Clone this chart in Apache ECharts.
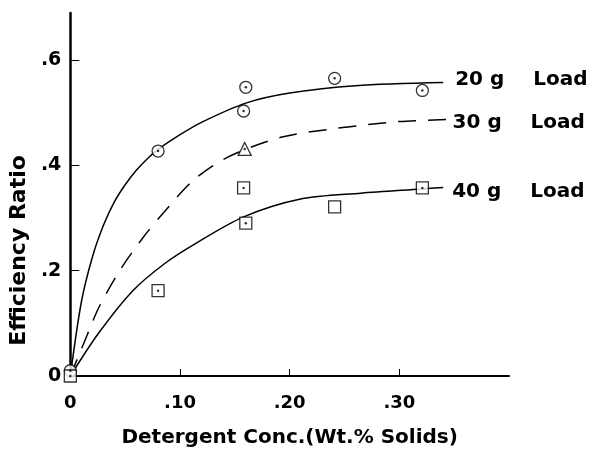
<!DOCTYPE html>
<html>
<head>
<meta charset="utf-8">
<script src="https://cdn.jsdelivr.net/npm/echarts@6/dist/echarts.min.js"></script>
<style>
  html, body { margin: 0; padding: 0; background: #fff; }
  #chart { width: 595px; height: 453px; }
</style>
</head>
<body>
<div id="chart"></div>
<script>
// axis ticks
const xTicks = [0, 0.1, 0.2, 0.3]
const yTicks = [0, 0.2, 0.4, 0.6]

// fitted curves
const curve20X = [0, 0.01, 0.02, 0.03, 0.04, 0.05, 0.06, 0.07, 0.08, 0.1, 0.12, 0.16, 0.2, 0.26, 0.34]
const curve20Y = [0, 0.14, 0.225, 0.285, 0.33, 0.363, 0.39, 0.412, 0.43, 0.458, 0.482, 0.518, 0.537, 0.551, 0.557]
const curve30X = [0, 0.015, 0.026, 0.045, 0.066, 0.085, 0.113, 0.144, 0.192, 0.235, 0.271, 0.3, 0.344]
const curve30Y = [0, 0.076, 0.13, 0.2, 0.262, 0.31, 0.373, 0.416, 0.453, 0.468, 0.477, 0.483, 0.487]
const curve40X = [0, 0.026, 0.057, 0.087, 0.113, 0.158, 0.21, 0.265, 0.32, 0.34]
const curve40Y = [0, 0.082, 0.162, 0.215, 0.25, 0.302, 0.336, 0.347, 0.355, 0.358]

// measured points
const pts20X = [0, 0.08, 0.16, 0.158, 0.241, 0.321]
const pts20Y = [0.01, 0.427, 0.548, 0.503, 0.565, 0.542]
const pts30X = [0.159]
const pts30Y = [0.431]
const pts40X = [0, 0.08, 0.158, 0.16, 0.241, 0.321]
const pts40Y = [0, 0.162, 0.357, 0.29, 0.321, 0.357]
const pts40Dotted = [true, true, true, true, false, true]

const loadNames = ['20 g', '30 g', '40 g']

const zip = (xs, ys) => xs.map((x, i) => [x, ys[i]])

const FONT = 'DejaVu Sans'
const chart = echarts.init(document.getElementById('chart'), null, { renderer: 'canvas' })

const lineSeries = (name, xs, ys, type, offset) => ({
  name: name,
  type: 'line',
  data: zip(xs, ys),
  smooth: 0.3,
  showSymbol: false,
  silent: true,
  z: 2,
  lineStyle: { color: '#000', width: 1.5, type: type },
  endLabel: {
    show: true,
    offset: offset,
    formatter: '{a|' + name + '}{b|Load}',
    rich: {
      a: { width: 78, fontFamily: FONT, fontWeight: 'bold', fontSize: 20, color: '#000' },
      b: { fontFamily: FONT, fontWeight: 'bold', fontSize: 20, color: '#000' },
    },
  },
})

const markerStyle = { color: '#fff', borderColor: '#000', borderWidth: 1.3 }

const option = {
  animation: false,
  backgroundColor: '#fff',
  grid: { left: 69, top: 13, width: 440, height: 371 },
  xAxis: {
    type: 'value',
    min: 0,
    max: 0.4,
    name: 'Detergent Conc.(Wt.% Solids)',
    nameLocation: 'middle',
    nameGap: 52,
    nameTextStyle: { fontFamily: FONT, fontWeight: 'bold', fontSize: 20, color: '#000' },
    axisLine: { lineStyle: { color: '#000', width: 2 } },
    axisTick: { inside: true, length: 7, customValues: xTicks, lineStyle: { color: '#000', width: 1 } },
    axisLabel: {
      customValues: xTicks,
      margin: 18,
      fontFamily: FONT,
      fontWeight: 'bold',
      fontSize: 18,
      color: '#000',
      formatter: (v) => (v === 0 ? '0' : '.' + Math.round(v * 100)),
    },
    splitLine: { show: false },
  },
  yAxis: {
    type: 'value',
    min: 0,
    max: 0.689,
    name: 'Efficiency Ratio',
    nameLocation: 'middle',
    nameRotate: 90,
    nameGap: 38,
    nameTextStyle: {
      fontFamily: FONT,
      fontWeight: 'bold',
      fontSize: 22,
      color: '#000',
      padding: [0, 112, 0, 0],
    },
    axisLine: { show: true, lineStyle: { color: '#000', width: 2.5 } },
    axisTick: { show: true, inside: true, length: 9, customValues: yTicks, lineStyle: { color: '#000', width: 1 } },
    axisLabel: {
      customValues: yTicks,
      margin: 9,
      fontFamily: FONT,
      fontWeight: 'bold',
      fontSize: 19,
      color: '#000',
      formatter: (v) => (v === 0 ? '0' : '.' + Math.round(v * 10)),
    },
    splitLine: { show: false },
  },
  series: [
    lineSeries(loadNames[0], curve20X, curve20Y, 'solid', [4, -3]),
    lineSeries(loadNames[1], curve30X, curve30Y, [18, 12], [-3, 3]),
    lineSeries(loadNames[2], curve40X, curve40Y, 'solid', [1, 4]),
    {
      type: 'scatter',
      data: zip(pts20X, pts20Y),
      symbol: 'circle',
      symbolSize: 12,
      itemStyle: markerStyle,
      z: 3,
    },
    {
      type: 'scatter',
      data: zip(pts30X, pts30Y),
      symbol: 'triangle',
      symbolSize: 13,
      itemStyle: markerStyle,
      z: 3,
    },
    {
      type: 'scatter',
      data: zip(pts40X, pts40Y),
      symbol: 'rect',
      symbolSize: 12,
      itemStyle: markerStyle,
      z: 3,
    },
    {
      // centre dots of the markers
      type: 'scatter',
      data: zip(pts20X, pts20Y)
        .concat(zip(pts30X, pts30Y))
        .concat(zip(pts40X, pts40Y).filter((p, i) => pts40Dotted[i])),
      symbol: 'circle',
      symbolSize: 2.5,
      itemStyle: { color: '#000' },
      z: 4,
    },
  ],
}

chart.setOption(option)
</script>
</body>
</html>
